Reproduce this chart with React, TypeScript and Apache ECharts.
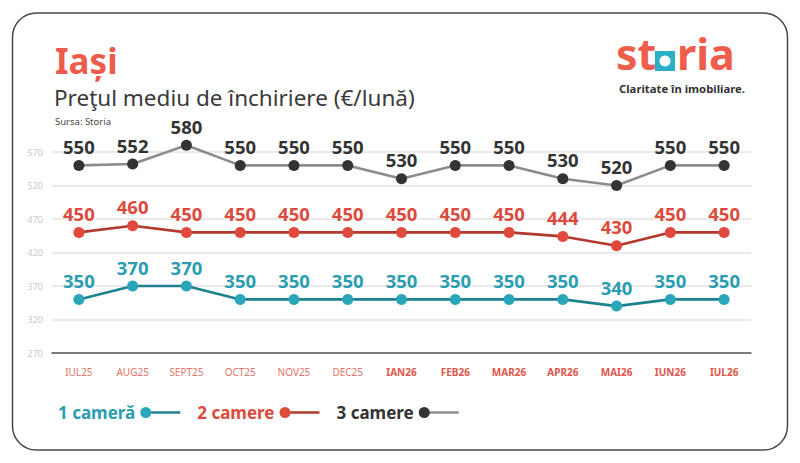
import React, { useEffect, useRef } from "react";
import * as echarts from "echarts";

const categories = ["IUL25", "AUG25", "SEPT25", "OCT25", "NOV25", "DEC25", "IAN26", "FEB26", "MAR26", "APR26", "MAI26", "IUN26", "IUL26"];
const firstBoldIndex = 6;
const oneRoom = [350, 370, 370, 350, 350, 350, 350, 350, 350, 350, 340, 350, 350];
const twoRooms = [450, 460, 450, 450, 450, 450, 450, 450, 450, 444, 430, 450, 450];
const threeRooms = [550, 552, 580, 550, 550, 550, 530, 550, 550, 530, 520, 550, 550];
const seriesNames = ["1 cameră", "2 camere", "3 camere"];
const yMin = 270;
const yMax = 570;
const yStep = 50;

const FONT = "'Noto Sans', sans-serif";

const palette = [
  { dot: "#2aa5b9", line: "#1f8190", label: "#2a9db0" },
  { dot: "#e04a3c", line: "#b3382e", label: "#dc4a3d" },
  { dot: "#333333", line: "#8c8c8c", label: "#333333" },
];

const legendIcon =
  "path://M0,5.5A5.5,5.5,0,1,0,11,5.5A5.5,5.5,0,1,0,0,5.5ZM11,4.2L40,4.2L40,6.8L11,6.8Z";

export default function App() {
  const ref = useRef<HTMLDivElement>(null);
  useEffect(() => {
    if (!ref.current) return;
    const chart = echarts.init(ref.current, undefined, { renderer: "svg" });
    const datasets = [oneRoom, twoRooms, threeRooms];
    const series = datasets.map((d, i) => ({
      name: seriesNames[i],
      type: "line",
      data: d,
      symbol: "circle",
      symbolSize: 11,
      clip: false,
      z: 3 + i,
      lineStyle: { color: palette[i].line, width: 2.6 },
      itemStyle: { color: palette[i].dot },
      label: {
        show: true,
        position: "top",
        distance: 4,
        fontFamily: FONT,
        fontSize: 18.5,
        fontWeight: "bold",
        color: palette[i].label,
      },
    }));
    const legendData = seriesNames.map((n, i) => ({
      name: n,
      icon: legendIcon,
      itemStyle: {
        color: new echarts.graphic.LinearGradient(0, 0, 1, 0, [
          { offset: 0, color: palette[i].dot },
          { offset: 0.27, color: palette[i].dot },
          { offset: 0.27, color: palette[i].line },
          { offset: 1, color: palette[i].line },
        ]),
      },
      textStyle: { color: palette[i].label },
    }));
    const logoText = (t: string, x: number) => ({
      type: "text",
      x,
      y: 53,
      style: {
        text: t,
        fill: "#ef5d4c",
        font: `bold 43px ${FONT}`,
        lineHeight: 28,
        textAlign: "left",
        textVerticalAlign: "middle",
      },
    });
    chart.setOption({
      animation: false,
      textStyle: { fontFamily: FONT },
      grid: { left: 52, right: 49, top: 152, bottom: 110 },
      legend: {
        left: 53,
        top: 399,
        align: "right",
        itemWidth: 40,
        itemHeight: 11,
        itemGap: 17,
        data: legendData,
        selectedMode: false,
        textStyle: { fontFamily: FONT, fontSize: 17, fontWeight: "bold" },
      },
      xAxis: {
        type: "category",
        boundaryGap: true,
        data: categories.map((c, i) => ({
          value: c,
          textStyle:
            i >= firstBoldIndex
              ? { fontWeight: "bold", color: "#e0564a" }
              : { fontWeight: "normal", color: "#e57468" },
        })),
        axisTick: { show: false },
        axisLine: { lineStyle: { color: "#555", width: 1.5 } },
        axisLabel: { margin: 14, fontSize: 10, fontFamily: FONT },
      },
      yAxis: {
        type: "value",
        min: yMin,
        max: yMax,
        interval: yStep,
        axisLine: { show: false },
        axisTick: { show: false },
        splitLine: { lineStyle: { color: "#e3e3e3", width: 1.5 } },
        axisLabel: { color: "#c8c8c8", fontSize: 9, margin: 9, fontFamily: FONT },
      },
      series,
      graphic: [
        {
          type: "rect",
          shape: { x: 12.5, y: 13, width: 775, height: 437, r: 24 },
          style: { fill: "none", stroke: "#474747", lineWidth: 1.5 },
          z: -10,
        },
        {
          type: "text",
          x: 55,
          y: 60,
          style: { text: "Iași", fill: "#ec5b4c", font: `bold 35px ${FONT}`, textVerticalAlign: "middle" },
        },
        {
          type: "text",
          x: 54,
          y: 97,
          style: { text: "Preţul mediu de închiriere (€/lună)", fill: "#3a3a3a", font: `22.5px ${FONT}`, textVerticalAlign: "middle" },
        },
        {
          type: "text",
          x: 55,
          y: 121.5,
          style: { text: "Sursa: Storia", fill: "#444", font: `9.5px ${FONT}`, textVerticalAlign: "middle" },
        },
        logoText("st", 616),
        {
          type: "rect",
          shape: { x: 655, y: 51, width: 20, height: 20 },
          style: { fill: "#2aafc6" },
        },
        {
          type: "circle",
          shape: { cx: 665, cy: 61, r: 5.5 },
          style: { fill: "#ffffff" },
        },
        logoText("ria", 677),
        {
          type: "text",
          x: 619,
          y: 88,
          style: { text: "Claritate în imobiliare.", fill: "#333", font: `bold 11.3px ${FONT}`, lineHeight: 11, textVerticalAlign: "middle" },
        },
      ],
    });
    return () => chart.dispose();
  }, []);
  return <div ref={ref} style={{ position: "fixed", left: 0, top: 0, width: 800, height: 463, background: "#fff" }} />;
}
